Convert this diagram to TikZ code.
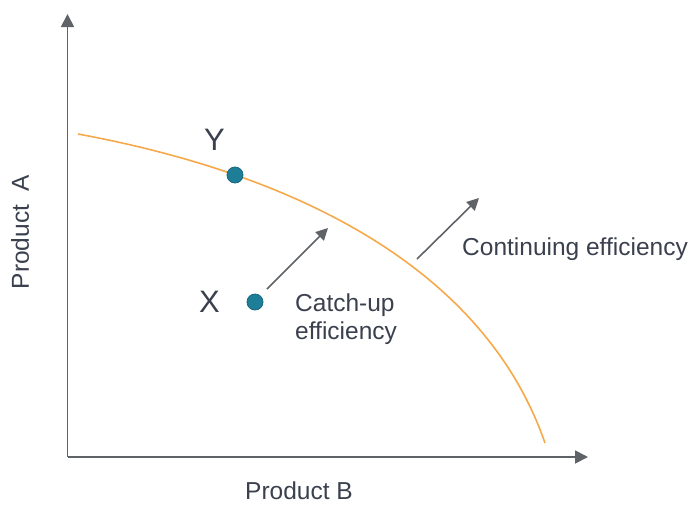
\documentclass[tikz,border=0pt]{standalone}
\usepackage{fontspec}
\setmainfont{Liberation Sans}
\usetikzlibrary{arrows.meta}
\definecolor{axisgray}{HTML}{5F6368}
\definecolor{curveorange}{HTML}{F6A94A}
\definecolor{dotteal}{HTML}{1E7E98}
\definecolor{dotedge}{HTML}{17687F}
\definecolor{txt}{HTML}{3A404D}
\tikzset{
  axisline/.style={draw=axisgray, line width=1.8pt, -{Triangle[length=13pt,width=13pt]}},
  movearrow/.style={draw=axisgray, line width=1.6pt, -{Triangle[length=12pt,width=12pt]}},
  frontier/.style={draw=curveorange, line width=1.6pt},
  pointdot/.style={circle, fill=dotteal, draw=dotedge, line width=0.8pt, minimum size=16pt, inner sep=0pt},
  biglabel/.style={text=txt, font=\fontsize{31}{35}\selectfont, inner sep=0pt},
  lbl/.style={text=txt, font=\fontsize{24.5}{28.5}\selectfont, inner sep=0pt},
}
\begin{document}
\begin{tikzpicture}[x=1pt,y=-1pt]
\useasboundingbox (0,0) rectangle (691,504);
% axes
\coordinate (O) at (67.5,457);
\coordinate (ytop) at (67.5,14);
\coordinate (xend) at (588,457);
\draw[axisline] (O) -- (ytop);
\draw[axisline] (O) -- (xend);
% frontier curve
\coordinate (c0) at (78,134);
\coordinate (c1) at (545,443);
\draw[frontier] (c0) .. controls (300,175) and (485,270) .. (c1);
% points
\node[pointdot] (Y) at (235,175) {};
\node[pointdot] (X) at (255,302) {};
\node[biglabel] (ylab) at (214.5,140) {Y};
\node[biglabel] (xlab) at (209.5,301.5) {X};
% arrows
\coordinate (a1s) at (267,289);
\coordinate (a1e) at (328,228);
\coordinate (a2s) at (417,259);
\coordinate (a2e) at (479,198);
\draw[movearrow] (a1s) -- (a1e);
\draw[movearrow] (a2s) -- (a2e);
% labels
\node[lbl, anchor=west] (cont) at (462,249.5) {Continuing efficiency};
\node[lbl, anchor=west, align=left] (catch) at (295,319) {Catch-up\\efficiency};
\node[lbl] (pb) at (299,491) {Product B};
\node[lbl, rotate=90] (pa) at (20,232) {Product~~A};
\end{tikzpicture}
\end{document}
